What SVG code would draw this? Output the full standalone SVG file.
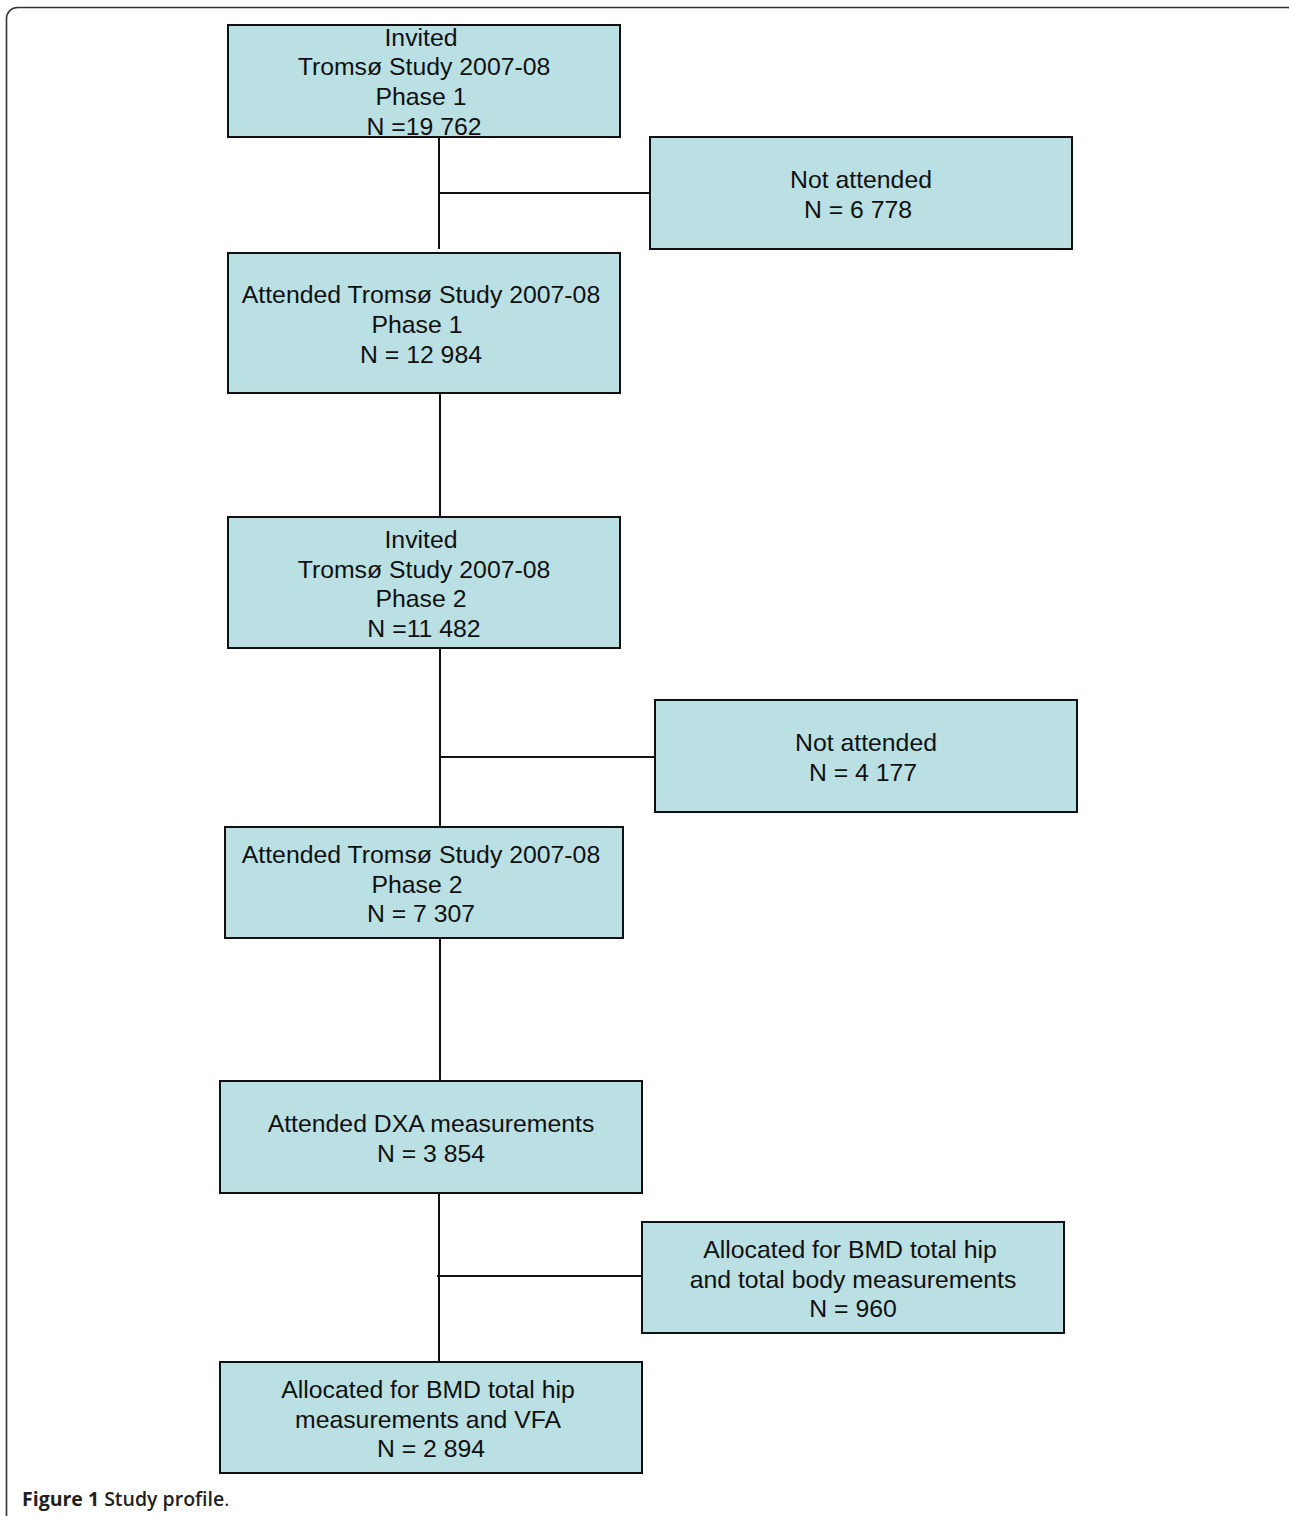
<svg xmlns="http://www.w3.org/2000/svg" width="1289" height="1516" viewBox="0 0 1289 1516">
<style>
.box{fill:#bae0e3;stroke:#111;stroke-width:2}
.t{font-family:"Liberation Sans",Arial,sans-serif;font-size:24.8px;fill:#111;text-anchor:middle}
.c{stroke:#111;stroke-width:2;fill:none}
.cap{font-family:"Open Sans","Noto Sans",sans-serif;font-size:19.5px;fill:#231f20}
</style>
<rect width="1289" height="1516" fill="#fff"/>
<rect x="6.5" y="7.5" width="1292" height="1530" rx="11" ry="11" fill="none" stroke="#333" stroke-width="1.6"/>
<g id="connectors">
<path class="c" d="M439 137V249M439 193H650"/>
<path class="c" d="M440 393V517"/>
<path class="c" d="M440 648V827M440 757H655"/>
<path class="c" d="M440 938V1081"/>
<path class="c" d="M439 1193V1362M437 1276H642"/>
</g>
<g id="n1"><rect class="box" x="228" y="25" width="392" height="112"/>
<text class="t" x="421" y="46">Invited</text><text class="t" x="424" y="75">Tromsø Study 2007-08</text><text class="t" x="421" y="105">Phase 1</text><text class="t" x="424" y="135">N =19 762</text></g>
<g id="n2"><rect class="box" x="650" y="137" width="422" height="112"/>
<text class="t" x="861" y="188">Not attended</text><text class="t" x="858" y="218">N = 6 778</text></g>
<g id="n3"><rect class="box" x="228" y="253" width="392" height="140"/>
<text class="t" x="421" y="303">Attended Tromsø Study 2007-08</text><text class="t" x="417" y="333">Phase 1</text><text class="t" x="421" y="363">N = 12 984</text></g>
<g id="n4"><rect class="box" x="228" y="517" width="392" height="131"/>
<text class="t" x="421" y="548">Invited</text><text class="t" x="424" y="578">Tromsø Study 2007-08</text><text class="t" x="421" y="607">Phase 2</text><text class="t" x="424" y="637">N =11 482</text></g>
<g id="n5"><rect class="box" x="655" y="700" width="422" height="112"/>
<text class="t" x="866" y="751">Not attended</text><text class="t" x="863" y="781">N = 4 177</text></g>
<g id="n6"><rect class="box" x="225" y="827" width="398" height="111"/>
<text class="t" x="421" y="863">Attended Tromsø Study 2007-08</text><text class="t" x="417" y="893">Phase 2</text><text class="t" x="421" y="922">N = 7 307</text></g>
<g id="n7"><rect class="box" x="220" y="1081" width="422" height="112"/>
<text class="t" x="431" y="1132">Attended DXA measurements</text><text class="t" x="431" y="1162">N = 3 854</text></g>
<g id="n8"><rect class="box" x="642" y="1222" width="422" height="111"/>
<text class="t" x="850" y="1258">Allocated for BMD total hip</text><text class="t" x="853" y="1288">and total body measurements</text><text class="t" x="853" y="1317">N = 960</text></g>
<g id="n9"><rect class="box" x="220" y="1362" width="422" height="111"/>
<text class="t" x="428" y="1398">Allocated for BMD total hip</text><text class="t" x="428" y="1428">measurements and VFA</text><text class="t" x="431" y="1457">N = 2 894</text></g>
<text class="cap" x="22" y="1506"><tspan font-weight="700">Figure 1</tspan><tspan font-weight="600"> Study profile</tspan>.</text>
</svg>
